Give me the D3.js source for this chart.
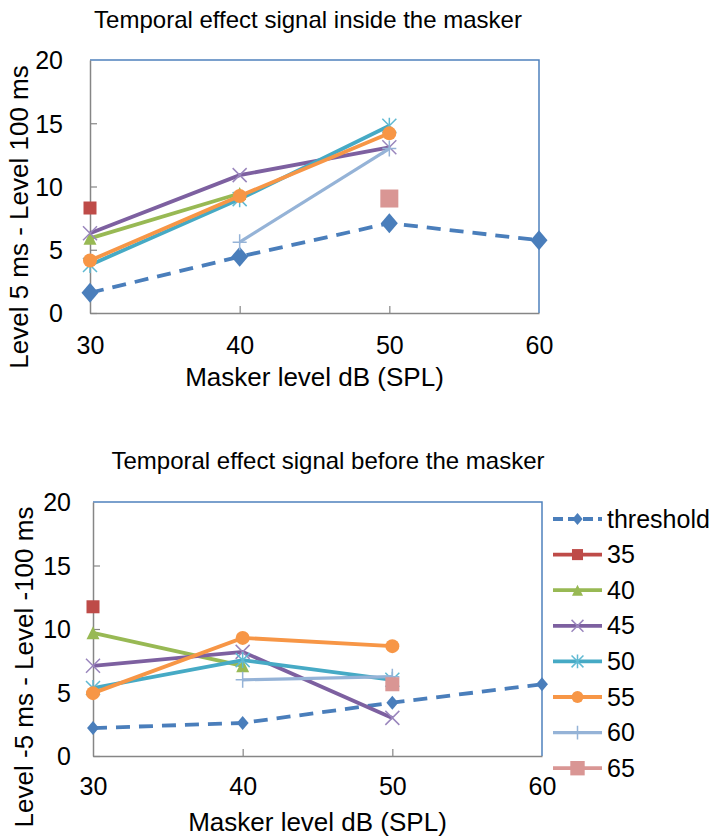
<!DOCTYPE html>
<html>
<head>
<meta charset="utf-8">
<script src="https://cdn.jsdelivr.net/npm/d3@7"></script>
<style>
  body { margin: 0; background: #fff; }
  svg { font-family: "Liberation Sans", Arial, sans-serif; }
</style>
</head>
<body>
<script>
// masker levels on the x axis
var maskerLevels = [30, 40, 50, 60];
var seriesNames = ["threshold", "35", "40", "45", "50", "55", "60", "65"];

// signal inside the masker (top chart)
var thresholdInside = [1.6, 4.45, 7.1, 5.75];
var s35Inside = [8.3, null, null, null];
var s40Inside = [5.9, 9.45, null, null];
var s45Inside = [6.3, 10.9, 13.1, null];
var s50Inside = [3.8, 9.0, 14.8, null];
var s55Inside = [4.15, 9.25, 14.2, null];
var s60Inside = [null, 5.6, 13.0, null];
var s65Inside = [null, null, 9.05, null];

// signal before the masker (bottom chart)
var thresholdBefore = [2.2, 2.6, 4.2, 5.65];
var s35Before = [11.75, null, null, null];
var s40Before = [9.7, 7.1, null, null];
var s45Before = [7.1, 8.2, 3.0, null];
var s50Before = [5.35, 7.55, 6.0, null];
var s55Before = [4.95, 9.3, 8.65, null];
var s60Before = [null, 6.0, 6.25, null];
var s65Before = [null, null, 5.65, null];

var yTicks = [0, 5, 10, 15, 20];

var styles = [
  {color: "#4a7ebb", marker: "diamond", dash: "14,9", width: 3.8},
  {color: "#be4b48", marker: "square", width: 3.8},
  {color: "#98b954", marker: "triangle", width: 3.8},
  {color: "#7d60a0", mcolor: "#9a86bd", marker: "x", width: 3.8},
  {color: "#46aac5", mcolor: "#5fb9d2", marker: "asterisk", width: 3.8},
  {color: "#f79646", marker: "circle", width: 3.8},
  {color: "#95b3d7", marker: "plus", width: 3.2},
  {color: "#d99694", marker: "bigsquare", width: 3.8}
];

var svg = d3.select("body").append("svg")
    .attr("width", 715)
    .attr("height", 838);

function drawMarker(g, type, color, x, y, k) {
  k = k || 1;
  if (type == "diamond") {
    var w = 8.5 * k, h = 10 * k;
    g.append("path").attr("d", "M" + x + "," + (y - h) + "L" + (x + w) + "," + y + "L" + x + "," + (y + h) + "L" + (x - w) + "," + y + "Z")
      .attr("fill", color);
  } else if (type == "square" || type == "bigsquare") {
    var s = (type == "square" ? 13 : 18) * k;
    g.append("rect").attr("x", x - s / 2).attr("y", y - s / 2).attr("width", s).attr("height", s)
      .attr("fill", color);
  } else if (type == "triangle") {
    var t = 6.5 * k;
    g.append("path").attr("d", "M" + x + "," + (y - t) + "L" + (x + t) + "," + (y + t) + "L" + (x - t) + "," + (y + t) + "Z")
      .attr("fill", color);
  } else if (type == "circle") {
    g.append("circle").attr("cx", x).attr("cy", y).attr("r", 7 * k).attr("fill", color);
  } else {
    var r = 7 * k, d = "";
    if (type == "x" || type == "asterisk") {
      d += "M" + (x - r) + "," + (y - r) + "L" + (x + r) + "," + (y + r);
      d += "M" + (x - r) + "," + (y + r) + "L" + (x + r) + "," + (y - r);
    }
    if (type == "plus" || type == "asterisk") {
      d += "M" + x + "," + (y - r - 1) + "L" + x + "," + (y + r + 1);
      if (type == "plus") d += "M" + (x - r) + "," + y + "L" + (x + r) + "," + y;
    }
    g.append("path").attr("d", d).attr("stroke", color).attr("stroke-width", 1.5).attr("fill", "none");
  }
}

function drawChart(opt) {
  var x = d3.scaleLinear().domain([30, 60]).range([opt.left, opt.right]);
  var y = d3.scaleLinear().domain([0, 20]).range([opt.bottom, opt.top]);
  var g = svg.append("g");

  // frame: blue top and right
  g.append("path")
    .attr("d", "M" + opt.left + "," + opt.top + "H" + opt.right + "V" + opt.bottom)
    .attr("fill", "none").attr("stroke", "#4f81bd").attr("stroke-width", 1.5);

  var yAxis = g.append("g")
    .attr("transform", "translate(" + opt.left + ",0)")
    .call(d3.axisLeft(y).tickValues(yTicks).tickSize(-7).tickSizeOuter(0).tickPadding(opt.yPad));
  var xAxis = g.append("g")
    .attr("transform", "translate(0," + opt.bottom + ")")
    .call(d3.axisBottom(x).tickValues(maskerLevels).tickSize(-7).tickSizeOuter(0).tickPadding(22));
  [yAxis, xAxis].forEach(function(a) {
    a.select(".domain").attr("stroke", "#868686").attr("stroke-width", 1.5);
    a.selectAll(".tick line").attr("stroke", "#868686").attr("stroke-width", 1.2);
    a.selectAll(".tick text").attr("fill", "#000").style("font-size", "25px")
      .style("font-family", "Liberation Sans, Arial, sans-serif");
  });
  yAxis.selectAll(".tick text").attr("dy", "0.35em");
  xAxis.selectAll(".tick text").attr("dy", null).attr("y", opt.xLabelY);
  yAxis.select(".tick:last-of-type line").remove();
  xAxis.select(".tick:last-of-type line").remove();
  xAxis.select(".tick:first-of-type line").remove();

  // titles
  g.append("text").attr("x", opt.titleX).attr("y", opt.titleY)
    .attr("text-anchor", "middle").style("font-size", "24px").text(opt.title);
  g.append("text").attr("x", (opt.left + opt.right) / 2).attr("y", opt.xTitleY)
    .attr("text-anchor", "middle").style("font-size", "26px").text("Masker level dB (SPL)");
  g.append("text").attr("transform", "translate(" + opt.yTitleX + "," + opt.yTitleY + ") rotate(-90)")
    .attr("text-anchor", "middle").style("font-size", "26px").text(opt.yTitle);

  var line = d3.line()
    .defined(function(d) { return d != null; })
    .x(function(d, i) { return x(maskerLevels[i]); })
    .y(function(d) { return y(d); });

  opt.series.forEach(function(vals, si) {
    var st = styles[si];
    g.append("path").datum(vals)
      .attr("d", line)
      .attr("fill", "none")
      .attr("stroke", st.color)
      .attr("stroke-width", st.width)
      .attr("stroke-dasharray", st.dash || null);
    vals.forEach(function(v, i) {
      if (v == null) return;
      var k = 1;
      if (si == 0) k = opt.diamondK;
      if (si == 7) k = opt.pinkK;
      drawMarker(g, st.marker, st.mcolor || st.color, x(maskerLevels[i]), y(v), k);
    });
  });
}

drawChart({
  left: 90, right: 539, top: 60, bottom: 313,
  yPad: 27, xLabelY: 41, xTitleY: 386,
  title: "Temporal effect signal inside the masker", titleX: 308, titleY: 28,
  yTitle: "Level 5 ms -  Level 100 ms", yTitleX: 28, yTitleY: 217,
  diamondK: 1, pinkK: 1,
  series: [thresholdInside, s35Inside, s40Inside, s45Inside, s50Inside, s55Inside, s60Inside, s65Inside]
});

drawChart({
  left: 93, right: 542, top: 502, bottom: 756,
  yPad: 22, xLabelY: 39, xTitleY: 831,
  title: "Temporal effect signal before the masker", titleX: 328, titleY: 469,
  yTitle: "Level -5 ms -  Level -100 ms", yTitleX: 33, yTitleY: 667,
  diamondK: 0.7, pinkK: 0.78,
  series: [thresholdBefore, s35Before, s40Before, s45Before, s50Before, s55Before, s60Before, s65Before]
});

// legend
var legend = svg.append("g");
seriesNames.forEach(function(name, i) {
  var st = styles[i];
  var ly = 519 + i * 35.6;
  legend.append("line").attr("x1", 553).attr("x2", 602).attr("y1", ly).attr("y2", ly)
    .attr("stroke", st.color).attr("stroke-width", st.width)
    .attr("stroke-dasharray", st.dash ? "10,5" : null);
  var k = i == 0 ? 0.6 : (i == 7 ? 0.8 : 0.85);
  drawMarker(legend, st.marker, st.mcolor || st.color, 577.5, ly, k);
  legend.append("text").attr("x", 607).attr("y", ly + 8.5)
    .style("font-size", "25px").text(name);
});
</script>
</body>
</html>
